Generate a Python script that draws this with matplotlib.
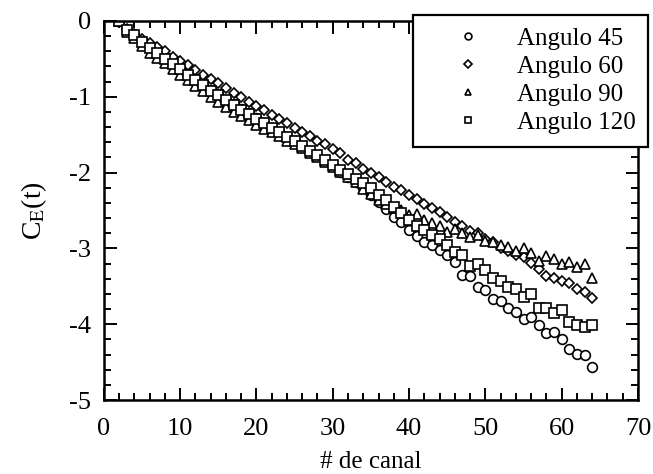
import matplotlib
matplotlib.use("Agg")
import matplotlib.pyplot as plt
from matplotlib.ticker import MultipleLocator

plt.rcParams["font.family"] = ["Liberation Serif", "DejaVu Serif"]
plt.rcParams["mathtext.fontset"] = "stix"
plt.rcParams["axes.unicode_minus"] = False

canal = list(range(2, 65))

angulo_45 = [
    0.00, -0.13, -0.19, -0.27, -0.35, -0.42, -0.49, -0.56, -0.63, -0.70,
    -0.77, -0.84, -0.91, -0.97, -1.04, -1.10, -1.16, -1.22, -1.28, -1.35,
    -1.41, -1.47, -1.53, -1.59, -1.66, -1.72, -1.78, -1.85, -1.92, -1.99,
    -2.06, -2.13, -2.21, -2.30, -2.39, -2.48, -2.58, -2.65, -2.76, -2.84,
    -2.91, -2.96, -3.02, -3.09, -3.18, -3.35, -3.36, -3.51, -3.55, -3.67,
    -3.70, -3.78, -3.84, -3.93, -3.91, -4.01, -4.12, -4.10, -4.19, -4.33,
    -4.39, -4.41, -4.57,
]
angulo_60 = [
    0.00, -0.11, -0.17, -0.24, -0.29, -0.35, -0.40, -0.47, -0.53, -0.58,
    -0.65, -0.71, -0.77, -0.82, -0.89, -0.95, -1.01, -1.07, -1.12, -1.18,
    -1.24, -1.30, -1.35, -1.41, -1.47, -1.52, -1.58, -1.63, -1.69, -1.74,
    -1.83, -1.88, -1.95, -2.01, -2.06, -2.12, -2.19, -2.23, -2.30, -2.35,
    -2.41, -2.47, -2.52, -2.58, -2.65, -2.70, -2.77, -2.80, -2.88, -2.92,
    -3.00, -3.04, -3.09, -3.12, -3.19, -3.27, -3.36, -3.39, -3.43, -3.45,
    -3.54, -3.57, -3.66,
]
angulo_90 = [
    0.00, -0.15, -0.22, -0.33, -0.42, -0.49, -0.56, -0.64, -0.71, -0.78,
    -0.86, -0.93, -1.00, -1.07, -1.14, -1.20, -1.25, -1.31, -1.37, -1.42,
    -1.47, -1.52, -1.58, -1.63, -1.68, -1.74, -1.80, -1.86, -1.93, -1.99,
    -2.06, -2.13, -2.22, -2.28, -2.36, -2.42, -2.47, -2.49, -2.56, -2.55,
    -2.63, -2.66, -2.70, -2.78, -2.75, -2.80, -2.85, -2.82, -2.90, -2.92,
    -2.96, -2.98, -3.03, -3.00, -3.06, -3.16, -3.10, -3.14, -3.21, -3.18,
    -3.24, -3.21, -3.39,
]
angulo_120 = [
    0.00, -0.12, -0.19, -0.28, -0.36, -0.43, -0.50, -0.57, -0.64, -0.71,
    -0.78, -0.85, -0.92, -0.98, -1.05, -1.11, -1.17, -1.23, -1.29, -1.35,
    -1.41, -1.47, -1.53, -1.59, -1.65, -1.71, -1.77, -1.83, -1.90, -1.96,
    -2.02, -2.08, -2.14, -2.21, -2.29, -2.36, -2.45, -2.54, -2.62, -2.70,
    -2.76, -2.82, -2.88, -2.95, -3.05, -3.09, -3.23, -3.21, -3.28, -3.39,
    -3.43, -3.51, -3.54, -3.64, -3.60, -3.78, -3.79, -3.85, -3.81, -3.97,
    -4.01, -4.04, -4.01,
]

series = [
    ("Angulo 45", angulo_45, "o", 7.0),
    ("Angulo 60", angulo_60, "D", 5.3),
    ("Angulo 90", angulo_90, "^", 7.0),
    ("Angulo 120", angulo_120, "s", 6.5),
]

fig = plt.figure(figsize=(6.53, 4.74), dpi=100)
ax = fig.add_axes([0.159, 0.156, 0.818, 0.800])

for label, vals, marker, ms in series:
    ax.plot(canal, vals, ls="none", marker=marker, ms=ms, mfc="white",
            mec="black", mew=1.2, label=label)

ax.set_xlim(0, 70)
ax.set_ylim(-5, 0)
ax.xaxis.set_major_locator(MultipleLocator(10))
ax.xaxis.set_minor_locator(MultipleLocator(2))
ax.yaxis.set_major_locator(MultipleLocator(1))
ax.yaxis.set_minor_locator(MultipleLocator(0.2))
ax.tick_params(which="both", direction="in", top=True, right=True,
               width=1.4, labelsize=19)
ax.tick_params(axis="x", which="major", pad=13)
ax.tick_params(axis="y", which="major", pad=9)
ax.tick_params(which="major", length=9)
ax.tick_params(which="minor", length=5)
for sp in ax.spines.values():
    sp.set_linewidth(1.8)

ax.set_xlabel("# de canal", fontsize=18)
ax.set_ylabel(r"C$_{\mathrm{E}}$(t)", fontsize=20)
ax.xaxis.set_label_coords(0.5, -0.164)
ax.xaxis.label.set_va("center")
ax.yaxis.set_label_coords(-0.13, 0.5)
ax.yaxis.label.set_va("center")
ax.yaxis.label.set_ha("center")

leg = fig.legend(loc="upper right", bbox_to_anchor=(648 / 653, 1 - 15 / 474),
                 fontsize=18, frameon=True, fancybox=False, edgecolor="black",
                 handlelength=3.4, handletextpad=0.26, borderpad=0.5,
                 labelspacing=0.22, borderaxespad=0, markerscale=0.7)
leg.get_frame().set_linewidth(1.6)
leg.get_frame().set_facecolor("white")
leg.get_frame().set_alpha(1)

fig.savefig("out.png", dpi=100)
